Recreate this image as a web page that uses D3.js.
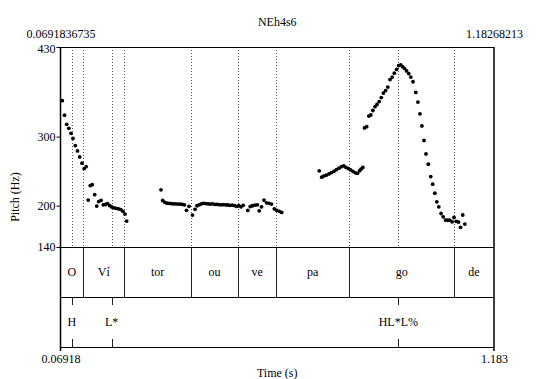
<!DOCTYPE html>
<html><head><meta charset="utf-8">
<script src="https://cdn.jsdelivr.net/npm/d3@7"></script>
<style>body{margin:0;background:#fff}svg{display:block}svg text{font-family:"Liberation Serif","Times New Roman",serif}</style>
</head><body><svg id="c" width="536" height="379"></svg>
<script>
const title = "NEh4s6";
const timeRange = [0.0691836735, 1.18268213];
const topTickLabels = ["0.0691836735", "1.18268213"];
const bottomTickLabels = ["0.06918", "1.183"];
const pitchRange = [140, 430];
const pitchTicks = [140, 200, 300, 430];
const syllables = ["O", "Ví", "tor", "ou", "ve", "pa", "go", "de"];
const syllableBounds = [0.1277, 0.2331, 0.4039, 0.5259, 0.6232, 0.8110, 1.0799];
const tones = ["H", "L*", "HL*L%"];
const toneTimes = [0.0980, 0.2007, 0.9369];

const pitchSeg1 = [[0.0738,352.1],[0.0795,331.1],[0.0851,317.9],[0.0905,312.1],[0.0962,304.9],[0.1013,297.4],[0.1072,287.0],[0.1128,279.3],[0.1185,270.6],[0.1244,261.5],[0.1301,253.7],[0.1352,256.6],[0.1403,208.1],[0.1455,229.1],[0.1506,230.3],[0.1570,215.9],[0.1622,199.3],[0.1673,205.8],[0.1732,207.7],[0.1791,201.2],[0.1848,201.6],[0.1899,202.9],[0.1956,199.9],[0.2010,198.0],[0.2066,196.8],[0.2123,196.1],[0.2182,195.4],[0.2241,194.2],[0.2295,191.8],[0.2349,187.7],[0.2392,177.6]];
const pitchSeg2 = [[0.3273,222.9],[0.3317,207.4],[0.3371,204.8],[0.3427,203.6],[0.3484,203.4],[0.3540,202.9],[0.3597,202.6],[0.3653,202.6],[0.3710,202.3],[0.3766,202.2],[0.3823,201.9],[0.3874,201.2],[0.3928,193.2],[0.3992,199.0],[0.4082,186.3],[0.4147,194.7],[0.4198,199.8],[0.4255,201.2],[0.4311,202.6],[0.4368,203.4],[0.4424,202.9],[0.4481,202.6],[0.4537,202.3],[0.4594,202.6],[0.4650,201.9],[0.4707,201.9],[0.4763,201.5],[0.4820,201.2],[0.4876,201.5],[0.4933,201.2],[0.4989,200.9],[0.5046,200.5],[0.5102,200.8],[0.5159,200.0],[0.5215,199.0],[0.5272,199.8],[0.5328,198.3],[0.5385,200.5],[0.5503,193.0],[0.5565,198.7],[0.5626,199.8],[0.5688,200.8],[0.5747,201.2],[0.5796,192.5],[0.5855,198.3],[0.5919,208.0],[0.5983,204.1],[0.6047,203.4],[0.6111,202.2],[0.6184,195.4],[0.6248,193.2],[0.6310,191.8],[0.6374,190.1]];
const pitchSeg3 = [[0.7339,250.4],[0.7401,241.3],[0.7460,243.1],[0.7524,244.3],[0.7589,246.0],[0.7653,247.9],[0.7717,249.9],[0.7781,252.1],[0.7846,254.3],[0.7910,256.4],[0.7969,257.6],[0.8025,255.4],[0.8085,253.7],[0.8146,251.8],[0.8205,249.6],[0.8264,247.5],[0.8321,246.8],[0.8372,250.4],[0.8411,252.8],[0.8457,255.4]];
const pitchSeg4 = [[0.8500,312.6],[0.8557,314.5],[0.8611,329.9],[0.8662,331.4],[0.8716,337.9],[0.8770,343.4],[0.8821,346.6],[0.8878,350.9],[0.8932,356.7],[0.8986,363.2],[0.9043,366.8],[0.9099,371.9],[0.9156,382.7],[0.9212,386.4],[0.9266,392.1],[0.9325,397.5],[0.9377,403.0],[0.9431,404.1],[0.9480,401.5],[0.9528,398.9],[0.9582,395.3],[0.9636,391.4],[0.9690,386.4],[0.9746,379.6],[0.9818,364.2],[0.9872,350.2],[0.9924,333.1],[0.9975,315.5],[1.0029,294.5],[1.0080,275.0],[1.0139,260.1],[1.0201,242.1],[1.0252,231.1],[1.0306,218.1],[1.0358,205.5],[1.0409,198.3],[1.0468,188.6],[1.0522,183.8],[1.0581,179.0],[1.0633,178.8],[1.0690,178.8],[1.0749,176.6],[1.0800,182.8],[1.0857,177.3],[1.0916,176.2],[1.0967,168.6],[1.1024,186.4],[1.1078,173.3]];

const svg = d3.select("#c");
const L = 60.5, R = 494, T = 47, P = 247, M = 297, B = 347;
const x = d3.scaleLinear().domain(timeRange).range([L, R]);
const y = d3.scaleLinear().domain(pitchRange).range([P, T]);
const fs = 12;
const serif = '"Liberation Serif","Times New Roman",serif';

svg.append("text").attr("x", (L + R) / 2).attr("y", 26).attr("text-anchor", "middle")
  .attr("font-size", fs).text(title);

const topAxis = d3.axisTop(x).tickValues(timeRange).tickSize(0).tickPadding(9)
  .tickFormat((d, i) => topTickLabels[i]);
const gTop = svg.append("g").attr("transform", `translate(0,${T})`).call(topAxis)
  .attr("font-family", serif).attr("font-size", fs);
gTop.select(".domain").remove();

const allMarks = syllableBounds.concat(toneTimes);
svg.append("g").selectAll("line").data(allMarks).join("line")
  .attr("x1", d => Math.round(x(d)) + 0.5).attr("x2", d => Math.round(x(d)) + 0.5)
  .attr("y1", T).attr("y2", P)
  .attr("stroke", "#555").attr("stroke-width", 1).attr("stroke-dasharray", "1,2");

const allPts = [pitchSeg1, pitchSeg2, pitchSeg3, pitchSeg4];
const gp = svg.append("g");
allPts.forEach(seg => {
  gp.selectAll(null).data(seg).join("circle")
    .attr("cx", d => x(d[0])).attr("cy", d => y(d[1])).attr("r", 1.9).attr("fill", "#000");
});

svg.append("g").selectAll("line").data(syllableBounds).join("line")
  .attr("x1", d => Math.round(x(d)) + 0.5).attr("x2", d => Math.round(x(d)) + 0.5)
  .attr("y1", P).attr("y2", M).attr("stroke", "#222").attr("stroke-width", 1);
const edges = [timeRange[0]].concat(syllableBounds, [timeRange[1]]);
svg.append("g").selectAll("text").data(syllables).join("text")
  .attr("x", (d, i) => (x(edges[i]) + x(edges[i + 1])) / 2).attr("y", 276)
  .attr("text-anchor", "middle").attr("font-size", fs).text(d => d);

const gt = svg.append("g");
gt.selectAll("line.a").data(toneTimes).join("line").attr("class", "a")
  .attr("x1", d => Math.round(x(d)) + 0.5).attr("x2", d => Math.round(x(d)) + 0.5)
  .attr("y1", M).attr("y2", M + 8).attr("stroke", "#222");
gt.selectAll("line.b").data(toneTimes).join("line").attr("class", "b")
  .attr("x1", d => Math.round(x(d)) + 0.5).attr("x2", d => Math.round(x(d)) + 0.5)
  .attr("y1", B - 8).attr("y2", B).attr("stroke", "#222");
gt.selectAll("text").data(tones).join("text")
  .attr("x", (d, i) => x(toneTimes[i])).attr("y", 326)
  .attr("text-anchor", "middle").attr("font-size", fs).text(d => d);

const fr = svg.append("g").attr("stroke", "#000").attr("fill", "none");
fr.append("line").attr("x1", L).attr("x2", R).attr("y1", T + 0.5).attr("y2", T + 0.5);
fr.append("line").attr("x1", L).attr("x2", R).attr("y1", P + 0.5).attr("y2", P + 0.5);
fr.append("line").attr("x1", L).attr("x2", R).attr("y1", M + 0.5).attr("y2", M + 0.5);
fr.append("line").attr("x1", L).attr("x2", R).attr("y1", B + 0.5).attr("y2", B + 0.5);
fr.append("line").attr("x1", L).attr("x2", L).attr("y1", T).attr("y2", B + 4).attr("stroke-width", 1.5);
fr.append("line").attr("x1", R).attr("x2", R).attr("y1", T).attr("y2", B + 4).attr("stroke-width", 1.5);

const yAxis = d3.axisLeft(y).tickValues(pitchTicks).tickSize(4).tickPadding(1).tickFormat(d3.format("d"));
const gy = svg.append("g").attr("transform", `translate(${L},0)`).call(yAxis)
  .attr("font-family", serif).attr("font-size", fs);
gy.select(".domain").remove();
gy.selectAll(".tick text").filter(d => d === 430).attr("dy", "0.45em");
svg.append("text").attr("transform", `translate(19,${(T + B) / 2}) rotate(-90)`)
  .attr("text-anchor", "middle").attr("font-size", fs).text("Pitch (Hz)");

const xAxis = d3.axisBottom(x).tickValues(timeRange).tickSize(0).tickPadding(7)
  .tickFormat((d, i) => bottomTickLabels[i]);
const gx = svg.append("g").attr("transform", `translate(0,${B})`).call(xAxis)
  .attr("font-family", serif).attr("font-size", fs);
gx.select(".domain").remove();
svg.append("text").attr("x", (L + R) / 2).attr("y", 377).attr("text-anchor", "middle")
  .attr("font-size", fs).text("Time (s)");
</script></body></html>
